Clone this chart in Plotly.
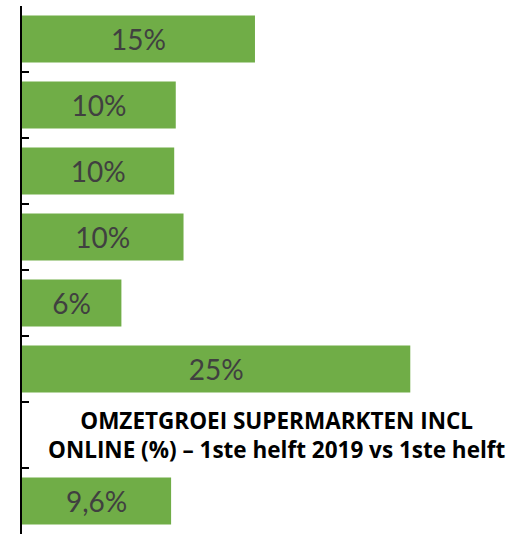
import plotly.graph_objects as go

# categories top to bottom; the 7th slot carries no bar (title sits there)
categories = ["c1", "c2", "c3", "c4", "c5", "c6", "c7", "c8"]
values = [15.0, 9.9, 9.8, 10.4, 6.4, 25.0, None, 9.6]
labels = ["15%", "10%", "10%", "10%", "6%", "25%", "", "9,6%"]

title_text = "OMZETGROEI SUPERMARKTEN INCL<br>ONLINE (%) – 1ste helft 2019 vs 1ste helft"

fig = go.Figure(
    go.Bar(
        x=values,
        y=categories,
        orientation="h",
        marker=dict(color="#70AD47", line=dict(width=0)),
        text=labels,
        textposition="inside",
        insidetextanchor="middle",
        textfont=dict(family="Lato", size=28, color="#404040"),
        hoverinfo="skip",
    )
)

fig.add_annotation(
    x=16.4, y="c7", xref="x", yref="y",
    text=title_text, showarrow=False,
    font=dict(family="Open Sans", size=22.5, color="#000000", weight="bold"),
    align="center",
)

fig.update_layout(
    width=519, height=534,
    margin=dict(l=22, r=0, t=6, b=0),
    paper_bgcolor="white", plot_bgcolor="white",
    bargap=0.29,
    showlegend=False,
    uniformtext=dict(minsize=8, mode="show"),
)
fig.update_xaxes(range=[0, 32], visible=False)
fig.update_yaxes(
    autorange="reversed", showticklabels=False, showgrid=False,
    showline=True, linecolor="black", linewidth=2,
    ticks="inside", tickson="boundaries", ticklen=7, tickwidth=2, tickcolor="black",
)

fig.write_html(
    "out.html",
    config={"displayModeBar": False},
    post_script="document.body.style.margin='0';",
)
